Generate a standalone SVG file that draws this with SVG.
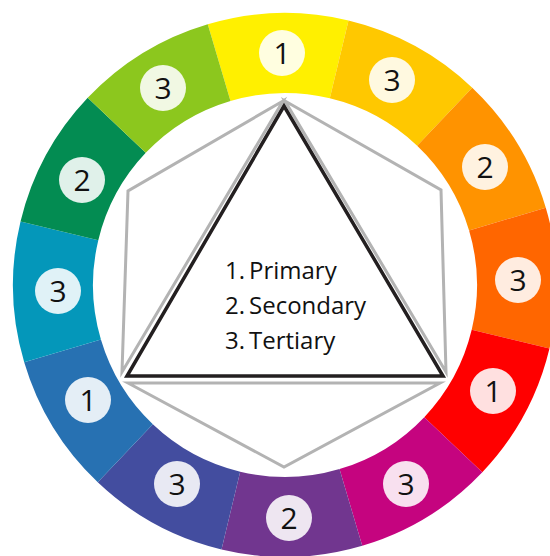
<svg xmlns="http://www.w3.org/2000/svg" width="550" height="556" viewBox="0 0 550 556">
<style>
.lab{fill:#ffffff;fill-opacity:0.88}
.num{font-family:"Open Sans","Liberation Sans",sans-serif;font-size:30px;fill:#111;text-anchor:middle}
.ear{fill:none;stroke:#b3b3b3;stroke-width:3;stroke-linejoin:miter;stroke-miterlimit:10}
.tri{fill:none;stroke:#231f20;stroke-width:3.5;stroke-linejoin:miter}
.leg{font-family:"Open Sans","Liberation Sans",sans-serif;font-size:24px;fill:#111}
</style>
<rect width="550" height="556" fill="#ffffff"/>
<g id="wheel">
<g id="seg-yellow"><path d="M207.75,24.2 A272,272 0 0 1 348.5,20.52 L329.82,98.3 A192,192 0 0 0 230.47,100.91 Z" fill="#fff000"/><circle class="lab" cx="282" cy="53" r="23"/><text class="num" x="282" y="64">1</text></g>
<g id="seg-golden"><path d="M348.5,20.52 A272,272 0 0 1 472.23,87.7 L417.16,145.73 A192,192 0 0 0 329.82,98.3 Z" fill="#ffc800"/><circle class="lab" cx="392" cy="80" r="23"/><text class="num" x="392" y="91">3</text></g>
<g id="seg-orange"><path d="M472.23,87.7 A272,272 0 0 1 545.8,207.75 L469.09,230.47 A192,192 0 0 0 417.16,145.73 Z" fill="#ff9300"/><circle class="lab" cx="485" cy="167" r="23"/><text class="num" x="485" y="178">2</text></g>
<g id="seg-orangered"><path d="M545.8,207.75 A272,272 0 0 1 549.48,348.5 L471.7,329.82 A192,192 0 0 0 469.09,230.47 Z" fill="#ff6600"/><circle class="lab" cx="518" cy="280" r="23"/><text class="num" x="518" y="291">3</text></g>
<g id="seg-red"><path d="M549.48,348.5 A272,272 0 0 1 482.3,472.23 L424.27,417.16 A192,192 0 0 0 471.7,329.82 Z" fill="#ff0000"/><circle class="lab" cx="493" cy="391" r="23"/><text class="num" x="493" y="402">1</text></g>
<g id="seg-magenta"><path d="M482.3,472.23 A272,272 0 0 1 362.25,545.8 L339.53,469.09 A192,192 0 0 0 424.27,417.16 Z" fill="#c5047f"/><circle class="lab" cx="406" cy="484" r="23"/><text class="num" x="406" y="495">3</text></g>
<g id="seg-purple"><path d="M362.25,545.8 A272,272 0 0 1 221.5,549.48 L240.18,471.7 A192,192 0 0 0 339.53,469.09 Z" fill="#71368f"/><circle class="lab" cx="289" cy="518" r="23"/><text class="num" x="289" y="529">2</text></g>
<g id="seg-indigo"><path d="M221.5,549.48 A272,272 0 0 1 97.77,482.3 L152.84,424.27 A192,192 0 0 0 240.18,471.7 Z" fill="#434d9f"/><circle class="lab" cx="177" cy="484" r="23"/><text class="num" x="177" y="495">3</text></g>
<g id="seg-blue"><path d="M97.77,482.3 A272,272 0 0 1 24.2,362.25 L100.91,339.53 A192,192 0 0 0 152.84,424.27 Z" fill="#2771b2"/><circle class="lab" cx="88" cy="400" r="23"/><text class="num" x="88" y="411">1</text></g>
<g id="seg-teal"><path d="M24.2,362.25 A272,272 0 0 1 20.52,221.5 L98.3,240.18 A192,192 0 0 0 100.91,339.53 Z" fill="#0497ba"/><circle class="lab" cx="58" cy="291" r="23"/><text class="num" x="58" y="302">3</text></g>
<g id="seg-green"><path d="M20.52,221.5 A272,272 0 0 1 87.7,97.77 L145.73,152.84 A192,192 0 0 0 98.3,240.18 Z" fill="#038c52"/><circle class="lab" cx="82" cy="180" r="23"/><text class="num" x="82" y="191">2</text></g>
<g id="seg-lime"><path d="M87.7,97.77 A272,272 0 0 1 207.75,24.2 L230.47,100.91 A192,192 0 0 0 145.73,152.84 Z" fill="#8cc71e"/><circle class="lab" cx="163" cy="88" r="23"/><text class="num" x="163" y="99">3</text></g>
</g>
<g id="shapes">
<polygon id="ear-left" class="ear" points="283,101 128,191 122,372"/>
<polygon id="ear-right" class="ear" points="285,101 441,190 446,372"/>
<polygon id="ear-bottom" class="ear" points="128,383 284,467 440,383"/>
<polygon id="triangle" class="tri" points="284,106 127,376 443,376"/>
</g>
<g id="legend">
<text class="leg" y="279"><tspan x="225">1.</tspan><tspan x="249">Primary</tspan></text>
<text class="leg" y="314"><tspan x="225">2.</tspan><tspan x="249">Secondary</tspan></text>
<text class="leg" y="349"><tspan x="225">3.</tspan><tspan x="249">Tertiary</tspan></text>
</g>
</svg>
